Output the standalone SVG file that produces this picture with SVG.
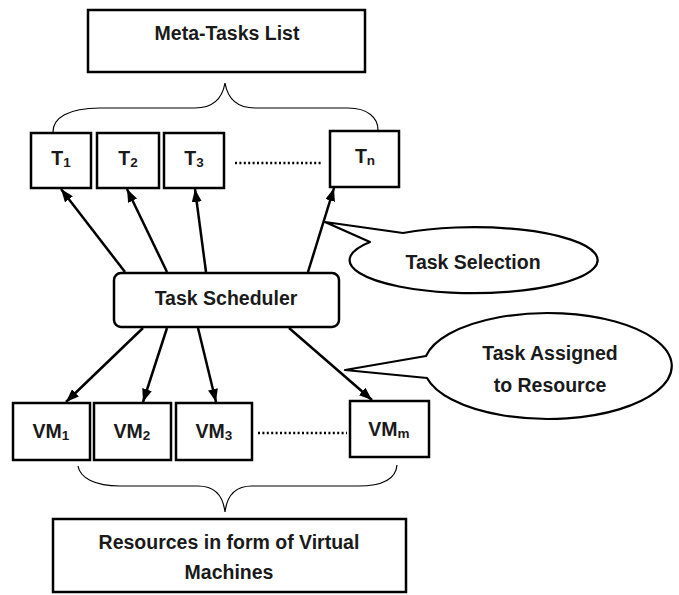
<svg xmlns="http://www.w3.org/2000/svg" width="679" height="595" viewBox="0 0 679 595">
<defs>
<style>
.box{fill:#fff;stroke:#000;stroke-width:2.5}
.call{fill:#fff;stroke:#000;stroke-width:2.2;stroke-linejoin:round}
.brace{fill:none;stroke:#000;stroke-width:1.2}
.arr{fill:none;stroke:#000;stroke-width:2.5;marker-end:url(#ah)}
.dots{fill:none;stroke:#000;stroke-width:2.5;stroke-dasharray:2 2.4}
text{font-family:"Liberation Sans",Arial,sans-serif;font-weight:bold;font-size:19.5px;fill:#1a1a1a;text-anchor:middle;dominant-baseline:central}
.sub{font-size:13.5px}
</style>
<marker id="ah" viewBox="0 0 13 10" refX="13" refY="5" markerWidth="13" markerHeight="10" markerUnits="userSpaceOnUse" orient="auto">
<path d="M0,0 L13,5 L0,10 Z" fill="#000"/>
</marker>
</defs>
<rect width="679" height="595" fill="#fff"/>

<g id="meta-tasks-list">
<rect class="box" x="88" y="10" width="277" height="62"/>
<text x="227" y="33">Meta-Tasks List</text>
</g>

<g id="t1"><rect class="box" x="31" y="133" width="60" height="55"/><text x="61" y="158">T<tspan class="sub" dy="4">1</tspan></text></g>
<g id="t2"><rect class="box" x="97" y="133" width="62" height="55"/><text x="128" y="158">T<tspan class="sub" dy="4">2</tspan></text></g>
<g id="t3"><rect class="box" x="164" y="133" width="60" height="55"/><text x="194" y="158">T<tspan class="sub" dy="4">3</tspan></text></g>
<g id="tn"><rect class="box" x="330" y="131" width="69" height="56"/><text x="365" y="156">T<tspan class="sub" dy="4">n</tspan></text></g>

<g id="task-scheduler">
<rect class="box" x="114" y="273" width="225" height="54" rx="7" ry="7"/>
<text x="226" y="298">Task Scheduler</text>
</g>

<g id="task-selection">
<path class="call" d="M403,233 L325,222 L370,242 A124,33 0 1 0 403,233 Z"/>
<text x="473" y="262">Task Selection</text>
</g>

<g id="task-assigned">
<path class="call" d="M426,356 L345,370 L427,378 A124,53 0 1 0 426,356 Z"/>
<text x="550" y="353">Task Assigned</text>
<text x="550" y="385">to Resource</text>
</g>

<g id="vm1"><rect class="box" x="13" y="403" width="77" height="57"/><text x="51" y="431">VM<tspan class="sub" dy="4">1</tspan></text></g>
<g id="vm2"><rect class="box" x="94" y="403" width="77" height="57"/><text x="132" y="431">VM<tspan class="sub" dy="4">2</tspan></text></g>
<g id="vm3"><rect class="box" x="176" y="403" width="76" height="57"/><text x="214" y="431">VM<tspan class="sub" dy="4">3</tspan></text></g>
<g id="vmm"><rect class="box" x="350" y="401" width="79" height="56"/><text x="389" y="429">VM<tspan class="sub" dy="4">m</tspan></text></g>

<g id="resources">
<rect class="box" x="53" y="519" width="353" height="73"/>
<text x="229" y="542">Resources in form of Virtual</text>
<text x="229" y="572">Machines</text>
</g>

<g id="connectors">
<path class="brace" d="M53,132 C53,118 68,108 100,108 L195,108 C212,108 222,100 225,83 C228,100 238,108 255,108 L348,108 C368,108 378,118 378,130"/>
<path class="brace" d="M78,466 C80,478 95,486 120,486 L198,486 C214,486 223,495 225,512 C227,495 236,486 252,486 L358,486 C384,486 396,478 397,465"/>
<line class="dots" x1="235" y1="163" x2="323" y2="163"/>
<line class="dots" x1="258" y1="433" x2="347" y2="433"/>
<line class="arr" x1="125" y1="272" x2="61" y2="189"/>
<line class="arr" x1="167" y1="272" x2="127" y2="189"/>
<line class="arr" x1="206" y1="272" x2="195" y2="189"/>
<line class="arr" x1="308" y1="272" x2="334" y2="188"/>
<line class="arr" x1="143" y1="328" x2="66" y2="402"/>
<line class="arr" x1="167" y1="328" x2="143" y2="402"/>
<line class="arr" x1="198" y1="328" x2="216" y2="402"/>
<line class="arr" x1="289" y1="328" x2="372" y2="400"/>
</g>
</svg>
